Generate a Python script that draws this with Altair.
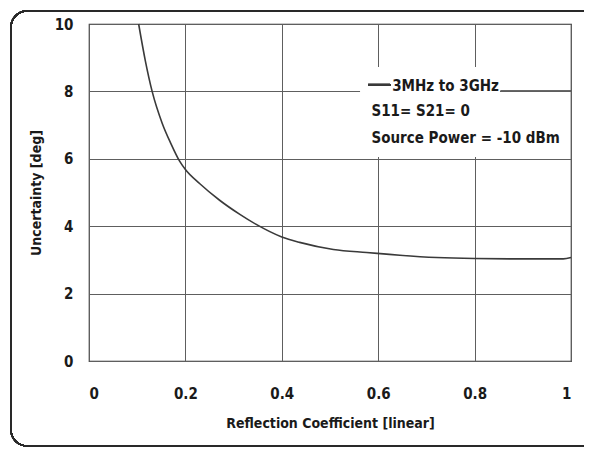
import altair as alt
import pandas as pd

# Data
refl = [0.103, 0.117, 0.131, 0.152, 0.17, 0.188, 0.2, 0.23, 0.271, 0.313, 0.346,
        0.4, 0.437, 0.507, 0.576, 0.611, 0.645, 0.721, 0.8, 0.9, 0.984, 1.0]
unc = [10.0, 8.9, 8.0, 7.05, 6.45, 5.93, 5.68, 5.26, 4.77, 4.35, 4.06,
       3.68, 3.52, 3.31, 3.22, 3.18, 3.14, 3.07, 3.04, 3.03, 3.03, 3.07]
x_ticks = [0, 0.2, 0.4, 0.6, 0.8, 1]
y_ticks = [0, 2, 4, 6, 8, 10]
legend_series = ["3MHz to 3GHz"]
legend_notes = ["S11= S21= 0", "Source Power = -10 dBm"]

FONT = "Liberation Sans Narrow, Arial Narrow, DejaVu Sans Condensed, Roboto Condensed, sans-serif"
W, H = 482, 337

df = pd.DataFrame({"refl": refl, "unc": unc})
xs = alt.Scale(domain=[0, 1], nice=False, zero=False)
ys = alt.Scale(domain=[0, 10], nice=False, zero=False)

base = alt.Chart(df)

frame = base.mark_rect(fill=None, stroke="#2a2a2a", strokeWidth=1.5, cornerRadius=16).encode(
    x=alt.value(-78), x2=alt.value(560), y=alt.value(-13), y2=alt.value(422)
)

curve = base.mark_line(color="#3a3a3a", strokeWidth=1.6, interpolate="monotone").encode(
    x=alt.X("refl:Q", scale=xs,
            axis=alt.Axis(values=x_ticks, format="~g", title="Reflection Coefficient [linear]",
                          labelBaseline="middle", labelPadding=32,
                          titleY=62, titleBaseline="middle", titleX=W / 2, titleAlign="center")),
    y=alt.Y("unc:Q", scale=ys,
            axis=alt.Axis(values=y_ticks, format="d", title="Uncertainty [deg]",
                          labelPadding=16, labelBaseline="middle",
                          titleX=-49, titleY=H / 2, titleAngle=270,
                          titleAlign="center", titleBaseline="alphabetic")),
)

box = base.mark_rect(fill="white", stroke=None).encode(
    x=alt.datum(0.564), x2=alt.datum(0.975), y=alt.datum(8.72), y2=alt.datum(6.07)
)

grid_seg = base.mark_rule(color="#5e5e5e", strokeWidth=1).encode(
    x=alt.datum(0.854), x2=alt.datum(1.0), y=alt.datum(8)
)

sample = base.mark_rule(color="#3a3a3a", strokeWidth=1.4).encode(
    x=alt.datum(0.579), x2=alt.datum(0.626), y=alt.datum(8.2)
)

text_style = dict(align="left", baseline="middle", font=FONT, fontSize=15,
                  fontWeight="bold", color="#1a1a1a")

t1 = alt.Chart(pd.DataFrame({"t": legend_series})).mark_text(**text_style).encode(
    x=alt.datum(0.629), y=alt.datum(8.17), text="t:N")

t2 = alt.Chart(pd.DataFrame({"t": [legend_notes[0]]})).mark_text(**text_style).encode(
    x=alt.datum(0.586), y=alt.datum(7.41), text="t:N")

t3 = alt.Chart(pd.DataFrame({"t": [legend_notes[1]]})).mark_text(**text_style).encode(
    x=alt.datum(0.586), y=alt.datum(6.62), text="t:N")

chart = alt.layer(frame, curve, box, grid_seg, sample, t1, t2, t3).properties(
    width=W, height=H,
    autosize=alt.AutoSizeParams(type="none"),
    padding={"left": 81, "top": 16, "right": 13, "bottom": 87},
    background="white",
).configure_view(
    stroke="#2a2a2a", strokeWidth=1.2
).configure_axis(
    domain=False, ticks=False, tickSize=0,
    grid=True, gridColor="#5e5e5e", gridWidth=1, gridOpacity=1,
    labelFont=FONT, labelFontSize=15, labelFontWeight="bold", labelColor="#1a1a1a",
    titleFont=FONT, titleFontSize=14, titleFontWeight="bold", titleColor="#1a1a1a",
)

chart.save("out.html", embed_options={"renderer": "svg", "actions": False})
